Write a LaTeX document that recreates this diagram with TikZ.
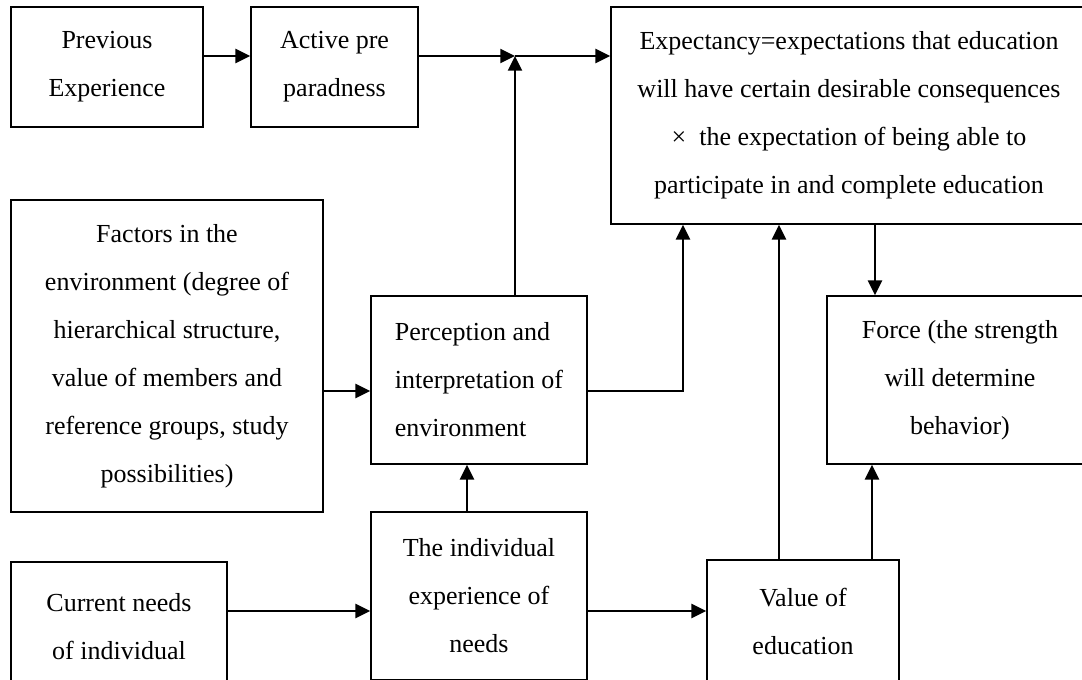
\documentclass[tikz,border=0pt]{standalone}
\usepackage{fontspec}
\setmainfont{Liberation Serif}
\usetikzlibrary{arrows.meta}

\tikzset{
  box/.style={draw, line width=1.3pt, inner sep=0pt, align=center,
    font=\fontsize{19.5pt}{36pt}\selectfont},
  sz/.style 2 args={minimum width=#1*0.75pt, minimum height=#2*0.75pt},
  arr/.style={line width=1.7pt, -{Triangle[length=11pt,width=10.5pt]}},
  ln/.style={line width=1.7pt}
}

\begin{document}
\begin{tikzpicture}[x=0.75pt, y=-0.75pt]
\useasboundingbox (0,0) rectangle (1082,679);
\clip (0,0) rectangle (1082,679);

% boxes
\node[box, sz={192}{120}] (prev) at (107,67) {Previous\\Experience};
\node[box, sz={167}{120}] (active) at (334.5,67) {Active pre\\paradness};
\node[box, sz={476}{217}] (expect) at (849,115.5)
  {Expectancy=expectations that education\\will have certain desirable consequences\\×~ the expectation of being able to\\participate in and complete education};
\node[box, sz={312}{312}] (factors) at (167,356)
  {Factors in the\\environment (degree of\\hierarchical structure,\\value of members and\\reference groups, study\\possibilities)};
\node[box, sz={216}{168}, align=left] (perc) at (479,380)
  {Perception and\\interpretation of\\environment};
\node[box, sz={266}{168}] (force) at (960,380)
  {Force (the strength\\will determine\\behavior)};
\node[box, sz={216}{168}] (indiv) at (479,596)
  {The individual\\experience of\\needs};
\node[box, sz={216}{130}] (current) at (119,627)
  {Current needs\\of individual};
\node[box, sz={192}{122}] (value) at (803,621)
  {Value of\\education};

% routing points
\coordinate (jn) at (515,56);
\coordinate (py) at (683,391);
\coordinate (ny) at (0,611);
\coordinate (vx) at (779,0);
\coordinate (fx) at (875,0);
\coordinate (wx) at (872,0);
\coordinate (ix) at (467,0);

% connectors
\draw[arr] (prev.east |- jn) -- (active.west |- jn);
\draw[arr] (active.east |- jn) -- (jn);
\draw[arr] (jn) -- (expect.west |- jn);
\draw[arr] (jn |- perc.north) -- (jn);
\draw[arr] (factors.east |- py) -- (perc.west |- py);
\draw[arr] (perc.east |- py) -| (py |- expect.south);
\draw[arr] (vx |- value.north) -- (vx |- expect.south);
\draw[arr] (fx |- expect.south) -- (fx |- force.north);
\draw[arr] (wx |- value.north) -- (wx |- force.south);
\draw[arr] (ix |- indiv.north) -- (ix |- perc.south);
\draw[arr] (current.east |- ny) -- (indiv.west |- ny);
\draw[arr] (indiv.east |- ny) -- (value.west |- ny);
\end{tikzpicture}
\end{document}
